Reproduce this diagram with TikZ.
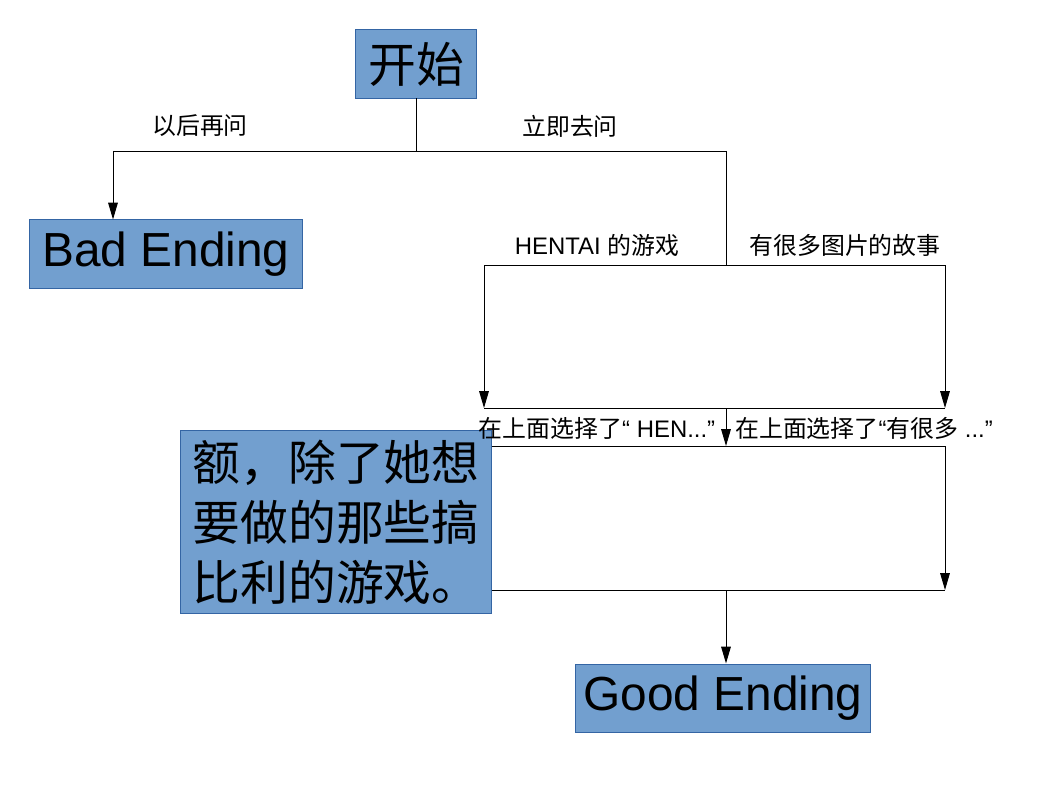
\documentclass[tikz,border=0pt]{standalone}
\usepackage{fontspec}
\setmainfont{Liberation Sans}
\newfontfamily\cjk{Noto Sans CJK SC}
\usetikzlibrary{arrows.meta}
\definecolor{flowblue}{HTML}{729fcf}
\definecolor{flowedge}{HTML}{3465a4}
\tikzset{
  box/.style={fill=flowblue,draw=flowedge,line width=0.7pt,inner sep=0pt,
    font=\fontsize{34}{40}\selectfont},
  lbl/.style={inner sep=0pt,font=\fontsize{17}{20}\selectfont},
  wire/.style={line width=0.7pt},
  arr/.style={wire,-{Triangle[length=0.42cm,width=0.24cm]}}
}

\begin{document}
\begin{tikzpicture}[x=0.025cm,y=-0.025cm]
  \useasboundingbox (0,0) rectangle (1058,794);
  \node[box,minimum width=3.025cm,minimum height=1.7cm] (start) at (416,64) {\cjk 开始};
  \node[box,minimum width=6.8cm,minimum height=1.7cm] (bad) at (166,254) {Bad Ending};
  \node[box,minimum width=7.75cm,minimum height=4.55cm,align=left,
    font=\fontsize{34}{42.7}\selectfont\cjk] (eh) at (336,522)
    {额，除了她想\\要做的那些搞\\比利的游戏。};
  \node[box,minimum width=7.35cm,minimum height=1.7cm] (good) at (723,698) {Good Ending};

  \node[lbl] (later) at (200,126) {\cjk 以后再问};
  \node[lbl] (now) at (570,126) {\cjk 立即去问};
  \node[lbl] (game) at (597,245) {HENTAI {\cjk 的游戏}};
  \node[lbl] (story) at (845,245) {\cjk 有很多图片的故事};
  \node[lbl] (pickgame) at (597,428) {{\cjk 在上面选择了}“ HEN...”};
  \node[lbl] (pickstory) at (864,428) {{\cjk 在上面选择了}“{\cjk 有很多} ...”};

  \coordinate (top) at (416,151);
  \coordinate (topl) at (113,151);
  \coordinate (topr) at (726,151);
  \coordinate (midc) at (726,265);
  \coordinate (midl) at (484,265);
  \coordinate (midr) at (945,265);
  \coordinate (lowl) at (484,408);
  \coordinate (lowr) at (945,408);
  \coordinate (lowc) at (726,408);
  \coordinate (joinc) at (726,446);
  \coordinate (joinr) at (945,446);
  \coordinate (endr) at (945,590);
  \coordinate (endc) at (726,590);

  \draw[wire] (start.south) -- (top);
  \draw[wire] (topl) -- (topr);
  \draw[arr] (topl) -- (topl |- bad.north);
  \draw[wire] (topr) -- (midc);
  \draw[wire] (midl) -- (midr);
  \draw[arr] (midl) -- (lowl);
  \draw[arr] (midr) -- (lowr);
  \draw[wire] (lowl) -- (lowr);
  \draw[arr] (lowc) -- (joinc);
  \draw[wire] (eh.east |- joinr) -- (joinr);
  \draw[arr] (joinr) -- (endr);
  \draw[wire] (eh.east |- endr) -- (endr);
  \draw[arr] (endc) -- (endc |- good.north);
\end{tikzpicture}
\end{document}
